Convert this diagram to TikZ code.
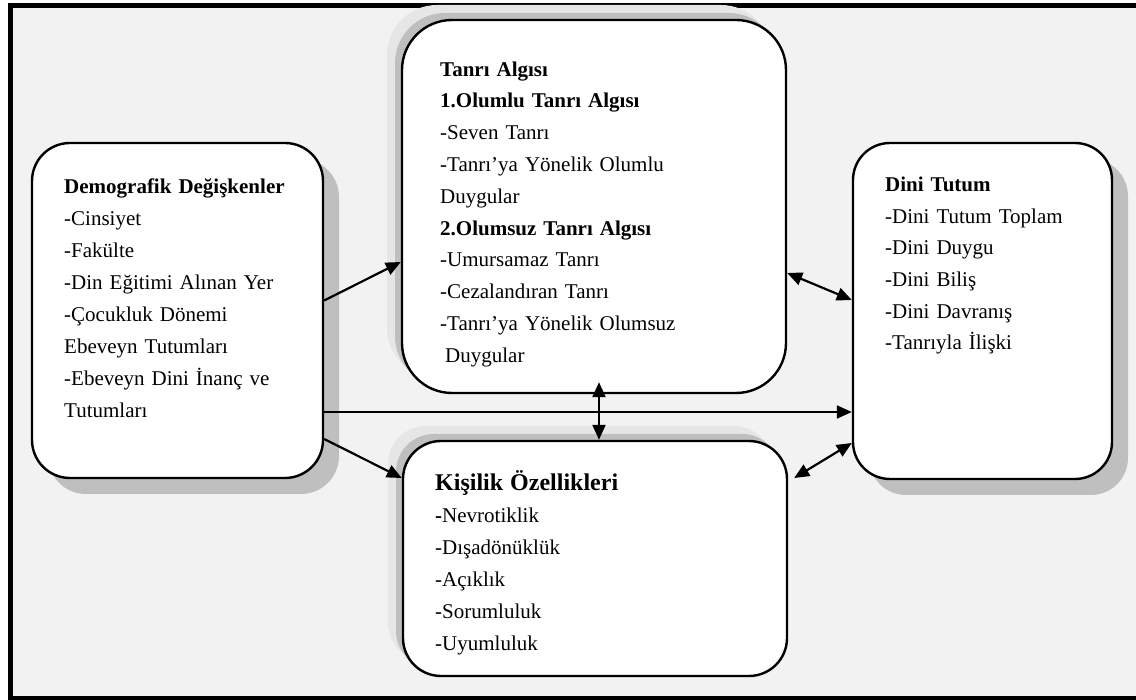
\documentclass[tikz,border=0pt]{standalone}
\usepackage{fontspec}
\setmainfont{Liberation Serif}
\usetikzlibrary{arrows.meta,shadows}
\definecolor{panel}{HTML}{F2F2F2}
\definecolor{shade}{HTML}{BFBFBF}
\definecolor{halo}{HTML}{E6E6E6}

\begin{document}
\begin{tikzpicture}[x=1pt,y=-1pt,
  box/.style={rectangle,draw=black,line width=2.4pt,fill=white,inner sep=0pt},
  rightshade/.style={general shadow={shadow xshift=16pt,shadow yshift=-16pt,fill=shade}},
  leftshade/.style={general shadow={shadow xshift=-15pt,shadow yshift=15pt,fill=halo},
                    general shadow={shadow xshift=-7pt,shadow yshift=7pt,fill=shade}},
  txt/.style={anchor=north west,inner sep=0pt,text width=330pt,align=left,font=\fontsize{21}{#1}\selectfont},
  link/.style={line width=2.2pt,-{Triangle[length=15pt,width=13pt]}},
  twoway/.style={line width=2.2pt,{Triangle[length=15pt,width=13pt]}-{Triangle[length=15pt,width=13pt]}}]
\useasboundingbox (0,0) rectangle (1136,700);
\draw[line width=5pt,fill=panel] (10,5.5) rectangle (1142,698.5);
% boxes
\node[box,rightshade,rounded corners=38pt,minimum width=291pt,minimum height=335pt] (demog) at (177.5,310.5) {};
\node[box,leftshade,rounded corners=50pt,minimum width=384pt,minimum height=373pt] (tanri) at (594,206.5) {};
\node[box,leftshade,rounded corners=38pt,minimum width=384pt,minimum height=235pt] (kisilik) at (595,558.5) {};
\node[box,rightshade,rounded corners=37pt,minimum width=259pt,minimum height=336pt] (dini) at (982.5,311) {};
% texts
\node[txt=32] (demogtxt) at (64,170.6) {\strut\textbf{Demografik Değişkenler}\\
  -Cinsiyet\\-Fakülte\\-Din Eğitimi Alınan Yer\\-Çocukluk Dönemi\\Ebeveyn Tutumları\\
  -Ebeveyn Dini İnanç ve\\Tutumları};
\node[txt=31.8] (tanritxt) at (440,53.7) {\strut\textbf{Tanrı Algısı}\\
  \textbf{1.Olumlu Tanrı Algısı}\\-Seven Tanrı\\-Tanrı’ya Yönelik Olumlu\\Duygular\\
  \textbf{2.Olumsuz Tanrı Algısı}\\-Umursamaz Tanrı\\-Cezalandıran Tanrı\\
  -Tanrı’ya Yönelik Olumsuz\\\hspace*{5pt}Duygular};
\node[txt=32] (kisiliktxt) at (435,467.6) {{\fontsize{24}{32}\selectfont\strut\textbf{Kişilik Özellikleri}}\\
  \textbf{-}Nevrotiklik\\-Dışadönüklük\\-Açıklık\\-Sorumluluk\\-Uyumluluk};
\node[txt=31.6] (dinitxt) at (885,169.4) {\strut\textbf{Dini Tutum}\\
  -Dini Tutum Toplam\\-Dini Duygu\\-Dini Biliş\\-Dini Davranış\\-Tanrıyla İlişki};
% arrows
\draw[link] ([yshift=10pt]demog.east) -- ([yshift=-55.5pt]tanri.west);
\draw[link] ([yshift=-101.5pt]demog.east) -- ([yshift=-101pt]dini.west);
\draw[link] ([yshift=-128.5pt]demog.east) -- ([yshift=80.5pt]kisilik.west);
\draw[twoway] ([yshift=-66.5pt]tanri.east) -- ([yshift=11pt]dini.west);
\draw[twoway] ([xshift=5pt,yshift=12pt]tanri.south) -- ([xshift=4pt]kisilik.north);
\draw[twoway] ([xshift=6pt,yshift=80.5pt]kisilik.east) -- ([yshift=-132pt]dini.west);
\end{tikzpicture}
\end{document}
